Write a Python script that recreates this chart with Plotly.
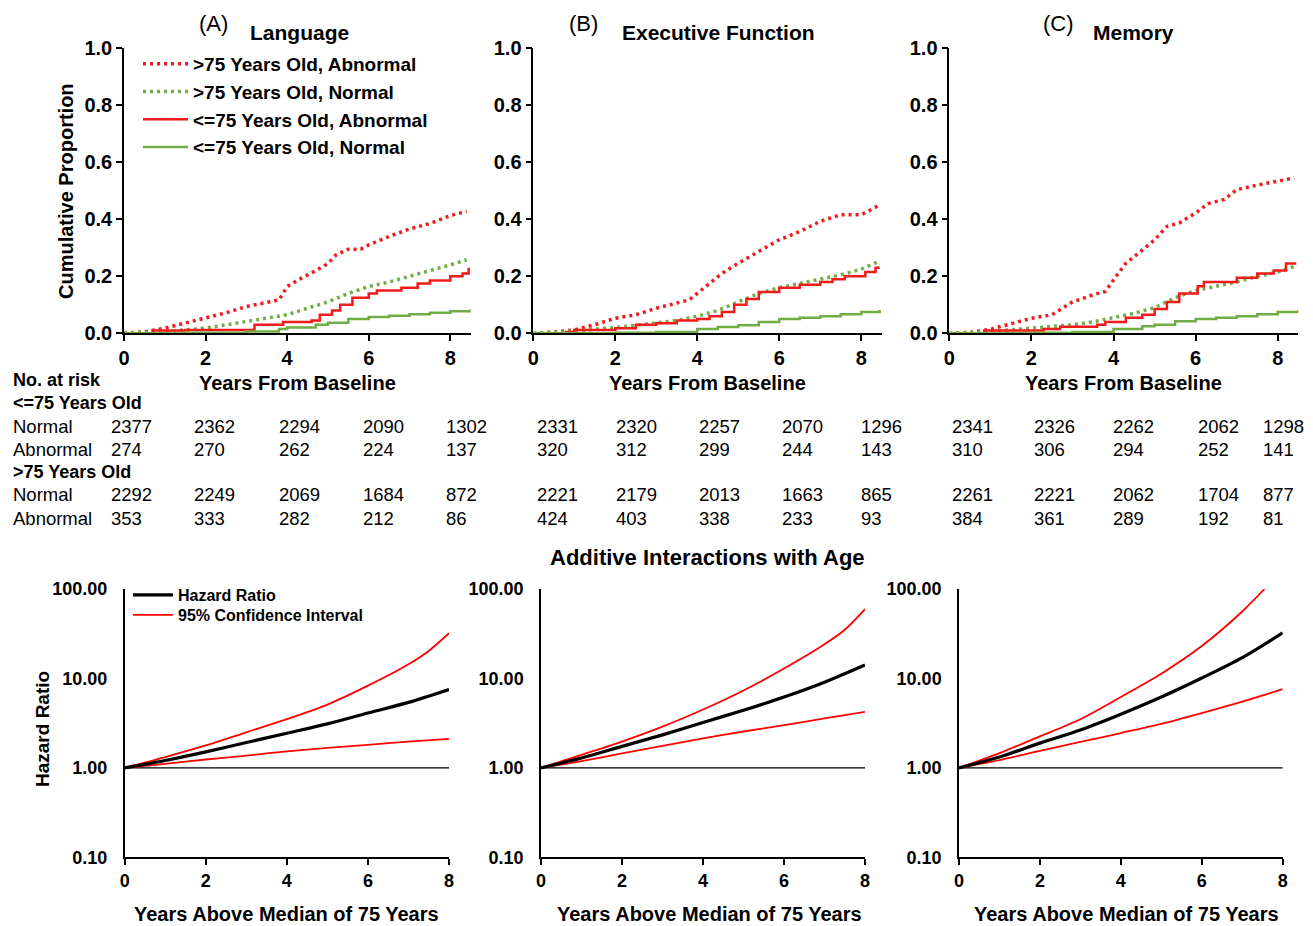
import plotly.graph_objects as go

# The page adds an 8px body margin, so the figure is drawn 8px in from the
# top-left corner of the 1313x926 window.
OFF = 8
W, H = 1313 - OFF, 926 - OFF
FONT = "Liberation Sans, Arial, sans-serif"
RED = "#F21B1B"
GREEN = "#70AD47"

# ---------------- Top row: cumulative proportion (Kaplan-Meier style) ----------------
# Language
lang_old_abn_x = [0, 0.5, 1, 1.5, 2, 2.5, 3, 3.5, 3.8, 4, 4.3, 4.7, 5, 5.2, 5.5, 5.8, 6, 6.5, 7, 7.5, 8, 8.4]
lang_old_abn_y = [0, 0.005, 0.018, 0.035, 0.053, 0.072, 0.094, 0.108, 0.117, 0.164, 0.19, 0.22, 0.245, 0.275, 0.295, 0.295, 0.31, 0.34, 0.366, 0.385, 0.413, 0.428]
lang_old_norm_x = [0, 1, 2, 3, 4, 4.5, 5, 5.5, 6, 6.5, 7, 7.5, 8, 8.4]
lang_old_norm_y = [0, 0.006, 0.018, 0.041, 0.065, 0.088, 0.11, 0.14, 0.164, 0.18, 0.2, 0.217, 0.24, 0.258]
lang_young_abn_x = [0, 0.7, 1.5, 3.2, 3.9, 4.6, 4.8, 5.1, 5.3, 5.6, 6.0, 6.2, 6.8, 7.2, 7.5, 8.0, 8.3, 8.45]
lang_young_abn_y = [0, 0.01, 0.012, 0.03, 0.04, 0.045, 0.065, 0.08, 0.1, 0.125, 0.14, 0.15, 0.16, 0.175, 0.185, 0.2, 0.21, 0.23]
lang_young_norm_x = [0, 1.5, 3, 3.8, 4, 4.7, 5, 5.5, 6, 6.5, 7, 7.5, 8, 8.5]
lang_young_norm_y = [0, 0.002, 0.006, 0.015, 0.02, 0.03, 0.037, 0.05, 0.057, 0.062, 0.067, 0.072, 0.077, 0.085]

# Executive Function
exec_old_abn_x = [0, 0.5, 1, 1.5, 2, 2.5, 3, 3.5, 3.8, 4, 4.3, 4.6, 5, 5.5, 6, 6.5, 7, 7.5, 8, 8.4]
exec_old_abn_y = [0, 0.004, 0.012, 0.03, 0.053, 0.065, 0.088, 0.105, 0.117, 0.14, 0.176, 0.21, 0.246, 0.287, 0.328, 0.357, 0.393, 0.416, 0.416, 0.446]
exec_old_norm_x = [0, 1, 2, 3, 3.5, 4, 4.5, 5, 5.5, 6, 6.5, 7, 7.5, 8, 8.4]
exec_old_norm_y = [0, 0.008, 0.02, 0.035, 0.045, 0.06, 0.08, 0.11, 0.14, 0.16, 0.175, 0.19, 0.205, 0.225, 0.25]
exec_young_abn_x = [0, 0.8, 1.0, 2.0, 2.5, 3.0, 3.5, 4.0, 4.3, 4.6, 4.9, 5.2, 5.5, 6.0, 6.5, 7.0, 7.3, 7.6, 8.1, 8.35, 8.45]
exec_young_abn_y = [0, 0.005, 0.012, 0.018, 0.03, 0.035, 0.045, 0.05, 0.06, 0.075, 0.1, 0.12, 0.145, 0.16, 0.17, 0.18, 0.19, 0.2, 0.215, 0.23, 0.23]
exec_young_norm_x = [0, 2, 3, 4, 4.5, 5, 5.5, 6, 6.5, 7, 7.5, 8, 8.45]
exec_young_norm_y = [0, 0.002, 0.005, 0.015, 0.022, 0.028, 0.04, 0.05, 0.055, 0.06, 0.067, 0.075, 0.082]

# Memory
mem_old_abn_x = [0, 0.5, 1, 1.5, 2, 2.5, 3, 3.5, 3.8, 4, 4.3, 4.6, 5, 5.3, 5.6, 6, 6.3, 6.7, 7, 7.5, 8, 8.4]
mem_old_abn_y = [0, 0.003, 0.014, 0.033, 0.053, 0.065, 0.11, 0.135, 0.147, 0.188, 0.246, 0.28, 0.328, 0.375, 0.387, 0.422, 0.455, 0.47, 0.504, 0.52, 0.534, 0.545]
mem_old_norm_x = [0, 1, 2, 3, 3.5, 4, 4.5, 5, 5.5, 6, 6.5, 7, 7.5, 8, 8.4]
mem_old_norm_y = [0, 0.006, 0.018, 0.03, 0.04, 0.055, 0.07, 0.09, 0.125, 0.15, 0.165, 0.18, 0.2, 0.215, 0.235]
mem_young_abn_x = [0, 0.85, 2.3, 2.7, 3.6, 3.8, 4.3, 4.7, 5.0, 5.3, 5.6, 6.05, 6.2, 7.0, 7.5, 7.9, 8.2, 8.45]
mem_young_abn_y = [0, 0.01, 0.015, 0.023, 0.03, 0.04, 0.055, 0.065, 0.085, 0.11, 0.14, 0.165, 0.18, 0.195, 0.21, 0.22, 0.245, 0.245]
mem_young_norm_x = [0, 2, 3, 4, 4.7, 5, 5.5, 6, 6.5, 7, 7.5, 8, 8.5]
mem_young_norm_y = [0, 0.002, 0.005, 0.015, 0.025, 0.03, 0.042, 0.05, 0.055, 0.06, 0.067, 0.075, 0.082]

series_names = [">75 Years Old, Abnormal", ">75 Years Old, Normal",
                "<=75 Years Old, Abnormal", "<=75 Years Old, Normal"]
panel_titles = ["Language", "Executive Function", "Memory"]
panel_letters = ["(A)", "(B)", "(C)"]

# ---------------- No. at risk table ----------------
risk_years = [0, 2, 4, 6, 8]
lang_young_normal = [2377, 2362, 2294, 2090, 1302]
lang_young_abnormal = [274, 270, 262, 224, 137]
lang_old_normal = [2292, 2249, 2069, 1684, 872]
lang_old_abnormal = [353, 333, 282, 212, 86]
exec_young_normal = [2331, 2320, 2257, 2070, 1296]
exec_young_abnormal = [320, 312, 299, 244, 143]
exec_old_normal = [2221, 2179, 2013, 1663, 865]
exec_old_abnormal = [424, 403, 338, 233, 93]
mem_young_normal = [2341, 2326, 2262, 2062, 1298]
mem_young_abnormal = [310, 306, 294, 252, 141]
mem_old_normal = [2261, 2221, 2062, 1704, 877]
mem_old_abnormal = [384, 361, 289, 192, 81]

# ---------------- Bottom row: hazard ratios ----------------
hr_years = [0, 1, 2, 3, 4, 5, 6, 7, 8]
lang_hr = [1, 1.21, 1.51, 1.92, 2.44, 3.1, 4.1, 5.4, 7.53]
lang_hr_up_years = [0, 1, 2, 3, 4, 5, 6, 7, 7.5, 8]
lang_hr_up = [1, 1.32, 1.78, 2.5, 3.5, 5.1, 8.3, 14.4, 20.3, 32]
lang_hr_lo = [1, 1.11, 1.24, 1.37, 1.53, 1.67, 1.81, 1.97, 2.11]
exec_hr = [1, 1.29, 1.74, 2.34, 3.22, 4.41, 6.19, 9.07, 14.1]
exec_hr_up_years = [0, 1, 2, 3, 4, 5, 6, 7, 7.5, 8]
exec_hr_up = [1, 1.40, 1.97, 2.89, 4.49, 7.34, 12.9, 24.1, 35, 59.6]
exec_hr_lo = [1, 1.19, 1.45, 1.76, 2.14, 2.55, 3.0, 3.57, 4.23]
mem_hr = [1, 1.32, 1.89, 2.65, 3.98, 6.19, 10.1, 17.1, 32.4]
mem_hr_up_years = [0, 1, 2, 3, 4, 5, 6, 7, 7.55]
mem_hr_up = [1, 1.46, 2.25, 3.5, 6.2, 11.3, 23, 56, 100]
mem_hr_lo = [1, 1.22, 1.55, 1.95, 2.45, 3.1, 4.1, 5.5, 7.6]

# ---------------- Figure ----------------
fig = go.Figure()

def PX(x):
    return (x - OFF) / W

def PY(y):
    return 1 - (y - OFF) / H

top_panels = [
    (lang_old_abn_x, lang_old_abn_y, lang_old_norm_x, lang_old_norm_y,
     lang_young_abn_x, lang_young_abn_y, lang_young_norm_x, lang_young_norm_y),
    (exec_old_abn_x, exec_old_abn_y, exec_old_norm_x, exec_old_norm_y,
     exec_young_abn_x, exec_young_abn_y, exec_young_norm_x, exec_young_norm_y),
    (mem_old_abn_x, mem_old_abn_y, mem_old_norm_x, mem_old_norm_y,
     mem_young_abn_x, mem_young_abn_y, mem_young_norm_x, mem_young_norm_y),
]
styles = [
    dict(color=RED, width=3.5, dash="3px,4px"),
    dict(color=GREEN, width=3.5, dash="3px,4px"),
    dict(color=RED, width=2.5),
    dict(color=GREEN, width=2.5),
]
shapes_kind = ["linear", "linear", "hv", "hv"]

for p, data in enumerate(top_panels):
    ax = "" if p == 0 else str(p + 1)
    for k in range(4):
        fig.add_trace(go.Scatter(
            x=data[2 * k], y=data[2 * k + 1], mode="lines",
            line=dict(shape=shapes_kind[k], **styles[k]),
            name=series_names[k], showlegend=(p == 0), legend="legend",
            xaxis="x" + ax, yaxis="y" + ax, hoverinfo="skip"))

bottom_panels = [
    (hr_years, lang_hr, lang_hr_up_years, lang_hr_up, hr_years, lang_hr_lo),
    (hr_years, exec_hr, exec_hr_up_years, exec_hr_up, hr_years, exec_hr_lo),
    (hr_years, mem_hr, mem_hr_up_years, mem_hr_up, hr_years, mem_hr_lo),
]
ref_x = [0, 8]
ref_y = [1, 1]
for p, d in enumerate(bottom_panels):
    ax = str(p + 4)
    fig.add_trace(go.Scatter(x=ref_x, y=ref_y, mode="lines",
                             line=dict(color="black", width=1.2), showlegend=False,
                             xaxis="x" + ax, yaxis="y" + ax, hoverinfo="skip"))
    fig.add_trace(go.Scatter(x=d[2], y=d[3], mode="lines",
                             line=dict(color="#FF0000", width=1.8, shape="spline", smoothing=0.8),
                             name="95% Confidence Interval", showlegend=False,
                             xaxis="x" + ax, yaxis="y" + ax, hoverinfo="skip"))
    fig.add_trace(go.Scatter(x=d[4], y=d[5], mode="lines",
                             line=dict(color="#FF0000", width=1.8, shape="spline", smoothing=0.8),
                             name="95% Confidence Interval", showlegend=(p == 0),
                             legend="legend3",
                             xaxis="x" + ax, yaxis="y" + ax, hoverinfo="skip"))
    fig.add_trace(go.Scatter(x=d[0], y=d[1], mode="lines",
                             line=dict(color="black", width=3.2, shape="spline", smoothing=0.8),
                             name="Hazard Ratio", showlegend=(p == 0),
                             legend="legend2",
                             xaxis="x" + ax, yaxis="y" + ax, hoverinfo="skip"))

top_dom_x = [(124, 470.7), (533.3, 881.7), (949.3, 1298.3)]
top_dom_y = (48.3, 333.3)
bot_dom_x = [(124.7, 449), (541, 865), (959, 1282.7)]
bot_dom_y = (589, 857.3)

layout = dict(
    width=W, height=H, margin=dict(l=0, r=0, t=0, b=0, pad=0, autoexpand=False),
    paper_bgcolor="white", plot_bgcolor="white",
    font=dict(family=FONT, color="black", size=18),
    showlegend=True,
)

tickfont_top = dict(family=FONT, size=20, color="black", weight="bold")
tickfont_bot = dict(family=FONT, size=18, color="black", weight="bold")

for p in range(3):
    s = "" if p == 0 else str(p + 1)
    layout["xaxis" + s] = dict(
        domain=[PX(top_dom_x[p][0]), PX(top_dom_x[p][1])], range=[0, 8.5],
        anchor="y" + s, tickvals=[0, 2, 4, 6, 8], showgrid=False, zeroline=False,
        showline=True, linecolor="black", linewidth=1.5, ticks="outside",
        ticklen=6, tickwidth=1.5, tickcolor="black", tickfont=tickfont_top,
        automargin=False)
    layout["yaxis" + s] = dict(
        domain=[PY(top_dom_y[1]), PY(top_dom_y[0])], range=[0, 1],
        anchor="x" + s, tickvals=[0, 0.2, 0.4, 0.6, 0.8, 1.0], tickformat=".1f",
        showgrid=False, zeroline=False, showline=True, linecolor="black",
        linewidth=1.5, ticks="outside", ticklen=6, tickwidth=1.5, tickcolor="black",
        tickfont=tickfont_top, automargin=False)
for p in range(3):
    s = str(p + 4)
    layout["xaxis" + s] = dict(
        domain=[PX(bot_dom_x[p][0]), PX(bot_dom_x[p][1])], range=[0, 8],
        anchor="y" + s, tickvals=[0, 2, 4, 6, 8], showgrid=False, zeroline=False,
        showline=True, linecolor="black", linewidth=1.5, ticks="outside",
        ticklen=6, tickwidth=1.5, tickcolor="black", tickfont=tickfont_bot,
        automargin=False)
    layout["yaxis" + s] = dict(
        domain=[PY(bot_dom_y[1]), PY(bot_dom_y[0])], type="log", range=[-1, 2],
        anchor="x" + s, tickvals=[0.1, 1, 10, 100],
        ticktext=["0.10", "1.00", "10.00", "100.00"],
        showgrid=False, zeroline=False, showline=True, linecolor="black",
        linewidth=1.5, ticks="outside", ticklen=12, tickcolor="rgba(0,0,0,0)",
        tickfont=tickfont_bot, automargin=False)

layout["legend"] = dict(
    x=PX(138), y=PY(45), xanchor="left", yanchor="top", bgcolor="rgba(0,0,0,0)",
    font=dict(family=FONT, size=19, color="black", weight="bold"),
    itemwidth=45, traceorder="normal", tracegroupgap=0)
legend_small = dict(xanchor="left", yanchor="middle", bgcolor="rgba(0,0,0,0)",
                    font=dict(family=FONT, size=16, color="black", weight="bold"),
                    itemwidth=40)
layout["legend2"] = dict(x=PX(128), y=PY(595), **legend_small)
layout["legend3"] = dict(x=PX(128), y=PY(615), **legend_small)

ann = []

def text(x, y, t, size=18, bold=False, xanchor="center", angle=0):
    ann.append(dict(x=PX(x), y=PY(y), xref="paper", yref="paper", text=t,
                    showarrow=False, xanchor=xanchor, yanchor="middle",
                    textangle=angle,
                    font=dict(family=FONT, size=size, color="black",
                              weight="bold" if bold else "normal")))

# panel titles
letter_x = [213, 583, 1058]
title_x = [299, 718, 1133]
for p in range(3):
    text(letter_x[p], 23, panel_letters[p], size=22)
    text(title_x[p], 33, panel_titles[p], size=21, bold=True)

# axis titles
top_xtitle_x = [297, 707, 1123]
for p in range(3):
    text(top_xtitle_x[p], 383, "Years From Baseline", size=20, bold=True)
bot_xtitle_x = [286, 709, 1126]
for p in range(3):
    text(bot_xtitle_x[p], 914, "Years Above Median of 75 Years", size=20, bold=True)
text(66, 191, "Cumulative Proportion", size=20, bold=True, angle=-90)
text(42, 729, "Hazard Ratio", size=19, bold=True, angle=-90)
text(707, 557, "Additive Interactions with Age", size=22, bold=True)

# risk table
text(11, 380, "No. at risk", size=18, bold=True, xanchor="left")
text(11, 403, "<=75 Years Old", size=18, bold=True, xanchor="left")
text(11, 472, ">75 Years Old", size=18, bold=True, xanchor="left")
row_labels = ["Normal", "Abnormal", "Normal", "Abnormal"]
row_y = [426, 449, 495, 518]
for lab, yy in zip(row_labels, row_y):
    text(11, yy, lab, size=18.5, xanchor="left")

col_x = [
    [109, 192, 277, 361, 444],
    [535, 614, 697, 780, 859],
    [950, 1032, 1111, 1196, 1261],
]
risk_rows = [
    [lang_young_normal, lang_young_abnormal, lang_old_normal, lang_old_abnormal],
    [exec_young_normal, exec_young_abnormal, exec_old_normal, exec_old_abnormal],
    [mem_young_normal, mem_young_abnormal, mem_old_normal, mem_old_abnormal],
]
for p in range(3):
    for r in range(4):
        for c in range(len(risk_years)):
            text(col_x[p][c], row_y[r], str(risk_rows[p][r][c]), size=18.5, xanchor="left")

layout["annotations"] = ann
fig.update_layout(**layout)
fig.write_html("out.html")
